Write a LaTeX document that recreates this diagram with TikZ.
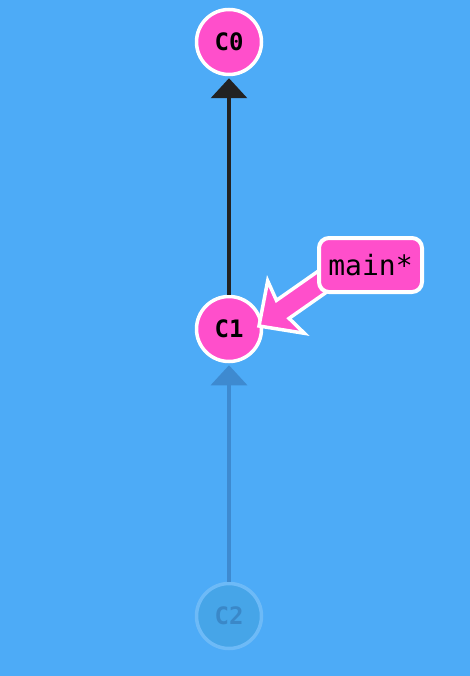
\documentclass[tikz,border=0pt]{standalone}
\usepackage{fontspec}
\setmonofont{DejaVu Sans Mono}
\usetikzlibrary{arrows.meta}
\definecolor{bgblue}{HTML}{4DABF7}
\definecolor{cpink}{HTML}{FF4FCB}
\definecolor{darkline}{HTML}{222222}
\definecolor{fadefill}{HTML}{46A5E8}
\definecolor{fadering}{HTML}{6DBAF7}
\definecolor{fadetext}{HTML}{3A88C8}
\definecolor{fadeline}{HTML}{3E8AD0}
\tikzset{
  commit/.style={circle, fill=cpink, draw=white, line width=3.5pt, minimum size=65pt, inner sep=0pt,
    font=\ttfamily\bfseries\fontsize{24}{24}\selectfont, text=black},
  ghost/.style={commit, fill=fadefill, draw=fadering, text=fadetext},
  parent/.style={line width=3.5pt, draw=darkline, -{Triangle[width=36pt,length=20pt]}, shorten >=2pt},
  ghostparent/.style={parent, draw=fadeline},
  branchlabel/.style={rounded corners=10pt, fill=cpink, draw=white, line width=4pt, minimum width=103pt, minimum height=54pt,
    font=\ttfamily\fontsize{28}{28}\selectfont, text=black, inner sep=0pt},
  branchptr/.style={fill=cpink, draw=white, line width=3.5pt, line join=miter}
}
\begin{document}
\begin{tikzpicture}[x=1pt,y=1pt]
\fill[bgblue] (0,0) rectangle (470,-676);
\useasboundingbox (0,0) rectangle (470,-676);
\node[commit] (c0) at (229,-42) {C0};
\node[commit] (c1) at (229,-329) {C1};
\node[ghost] (c2) at (229,-616) {C2};
\draw[parent] (c1.north) -- (c0.south);
\draw[ghostparent] (c2.north) -- (c1.south);
\coordinate (tip) at (259,-326);
\begin{scope}[shift={(tip)}, rotate=35]
\draw[branchptr] (0,0) -- (33,-32) -- (29,-11) -- (100,-11) -- (100,11) -- (29,11) -- (33,32) -- cycle;
\end{scope}
\node[branchlabel] (main) at (370.5,-265) {main*};
\end{tikzpicture}
\end{document}
